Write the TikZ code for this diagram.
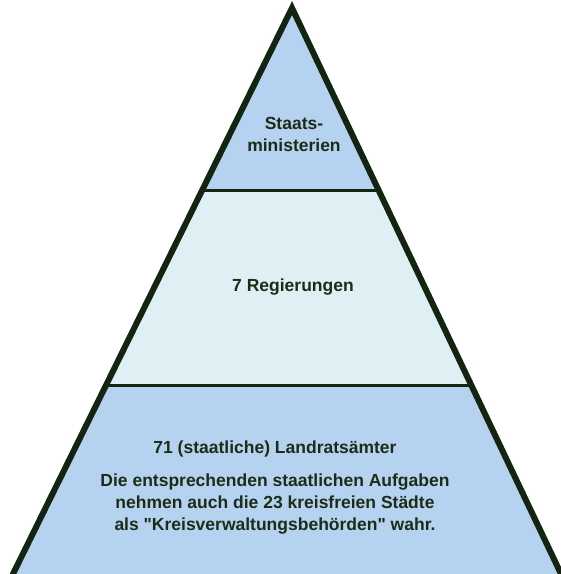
\documentclass[tikz,border=0pt]{standalone}
\usepackage{fontspec}
\setmainfont{Liberation Sans}[Ligatures=TeXOff]
\usetikzlibrary{calc, positioning}
\definecolor{LayerBlue}{HTML}{B5D3F0}
\definecolor{LayerLight}{HTML}{DFF0F5}
\definecolor{EdgeDark}{HTML}{132410}
\definecolor{TextDark}{HTML}{1C2C16}
\tikzset{
    edge/.style={draw=EdgeDark, line width=6pt, line join=miter},
    divider/.style={draw=EdgeDark, line width=3.5pt},
    label/.style={text=TextDark, font=\bfseries\fontsize{17.5}{22}\selectfont, align=center, inner sep=0pt}
}
\begin{document}
\begin{tikzpicture}[x=1pt, y=1pt]
    \useasboundingbox (0,0) rectangle (561,574);
    % Pyramid corners
    \coordinate (apex) at (292,566);
    \coordinate (bl) at (12,-2);
    \coordinate (br) at (562,-2);
    \coordinate (l1) at ($(apex)!0.3216!(bl)$);
    \coordinate (r1) at ($(apex)!0.3216!(br)$);
    \coordinate (l2) at ($(apex)!0.6643!(bl)$);
    \coordinate (r2) at ($(apex)!0.6643!(br)$);

    % Layers
    \fill[LayerBlue] (apex) -- (bl) -- (br) -- cycle;
    \fill[LayerLight] (l1) -- (r1) -- (r2) -- (l2) -- cycle;
    \draw[divider] (l1) -- (r1);
    \draw[divider] (l2) -- (r2);
    \draw[edge] (bl) -- (apex) -- (br);

    % Texts
    \node[label] (top) at (294,440) {Staats-\\ministerien};
    \node[label] (mid) at (293,287) {7 Regierungen};
    \node[label] (base) at (275,125) {71 (staatliche) Landratsämter};
    \node[label, below=16pt of base] (note) {Die entsprechenden staatlichen Aufgaben\\nehmen auch die 23 kreisfreien Städte\\als "Kreisverwaltungsbehörden" wahr.};
\end{tikzpicture}
\end{document}
